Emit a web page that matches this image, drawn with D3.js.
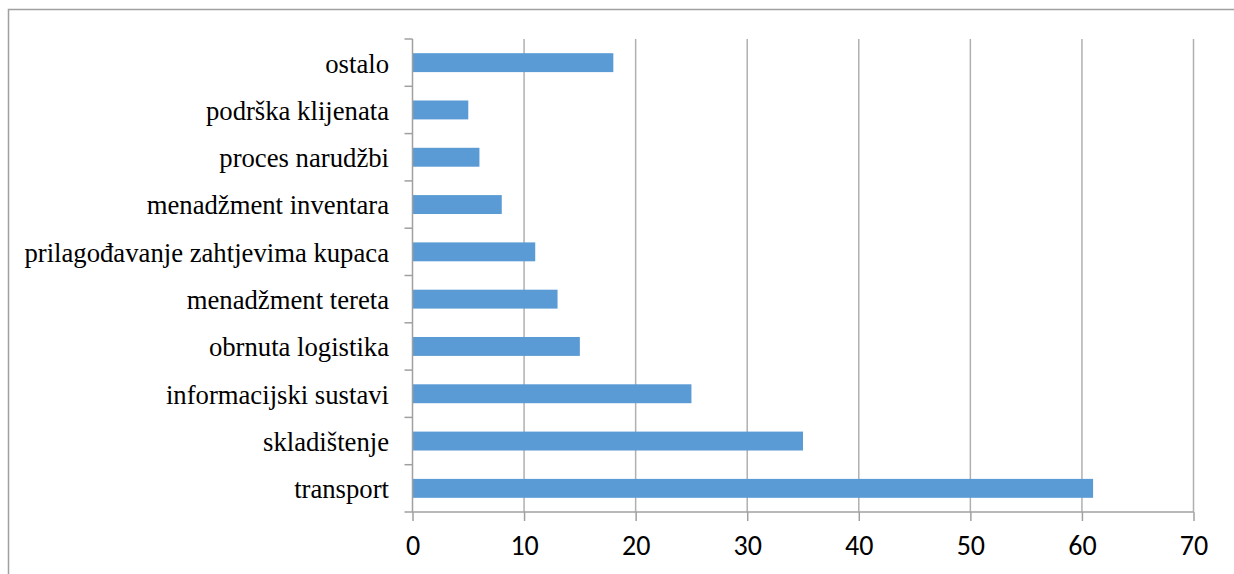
<!DOCTYPE html>
<html><head><meta charset="utf-8">
<script src="https://cdn.jsdelivr.net/npm/d3@7/dist/d3.min.js"></script>
<style>html,body{margin:0;padding:0;background:#fff;overflow:hidden}</style>
</head><body><svg id="c" width="1234" height="574"></svg>
<script>
const categories = ["ostalo","podrška klijenata","proces narudžbi","menadžment inventara","prilagođavanje zahtjevima kupaca","menadžment tereta","obrnuta logistika","informacijski sustavi","skladištenje","transport"];
const values = [18,5,6,8,11,13,15,25,35,61];
const xTicks = [0,10,20,30,40,50,60,70];

const svg = d3.select("#c");
const mLeft = 412.5, mRight = 1193.5, mTop = 39, mBottom = 512;

svg.append("rect").attr("x",8.5).attr("y",9.5).attr("width",1240).attr("height",600)
  .attr("fill","none").attr("stroke","#A0A0A0").attr("stroke-width",1.5);

const x = d3.scaleLinear().domain([0,70]).range([mLeft,mRight]);
const y = d3.scaleBand().domain(categories).range([mTop,mBottom]).paddingInner(0.6).paddingOuter(0.3);
const yb = d3.scaleBand().domain(categories).range([mTop,mBottom]);

// gridlines
svg.append("g").selectAll("line").data(xTicks.slice(1)).join("line")
  .attr("x1",d=>x(d)).attr("x2",d=>x(d)).attr("y1",mTop).attr("y2",mBottom)
  .attr("stroke","#B0B0B0").attr("stroke-width",1.5);

// bars
svg.append("g").selectAll("rect").data(values).join("rect")
  .attr("x",x(0)).attr("y",(d,i)=>y(categories[i]))
  .attr("width",d=>x(d)-x(0)).attr("height",y.bandwidth())
  .attr("fill","#5B9BD5");

// x axis
const xa = svg.append("g").attr("transform",`translate(0,${mBottom})`)
  .call(d3.axisBottom(x).tickValues(xTicks).tickSize(9).tickPadding(14.5));
xa.select(".domain").attr("stroke","#A0A0A0").attr("stroke-width",1.5).attr("d",`M${mLeft-8},0H${mRight}`);
xa.selectAll(".tick line").attr("stroke","#A0A0A0").attr("stroke-width",1.5);
xa.selectAll("text").attr("font-family","Carlito, Lato, sans-serif").attr("font-size",28).attr("fill","#000");

// y axis line + ticks at band boundaries
svg.append("line").attr("x1",mLeft).attr("x2",mLeft).attr("y1",mTop).attr("y2",mBottom)
  .attr("stroke","#A0A0A0").attr("stroke-width",1.5);
svg.append("g").selectAll("line").data(categories).join("line")
  .attr("x1",mLeft-8).attr("x2",mLeft).attr("y1",d=>yb(d)).attr("y2",d=>yb(d))
  .attr("stroke","#A0A0A0").attr("stroke-width",1.5);

// labels
svg.append("g").selectAll("text").data(categories).join("text")
  .attr("x",389).attr("y",d=>yb(d)+yb.bandwidth()/2)
  .attr("dy","0.37em").attr("text-anchor","end")
  .attr("font-family","'Liberation Serif','Times New Roman',serif").attr("font-size",26.7)
  .attr("fill","#000").text(d=>d);
</script></body></html>
